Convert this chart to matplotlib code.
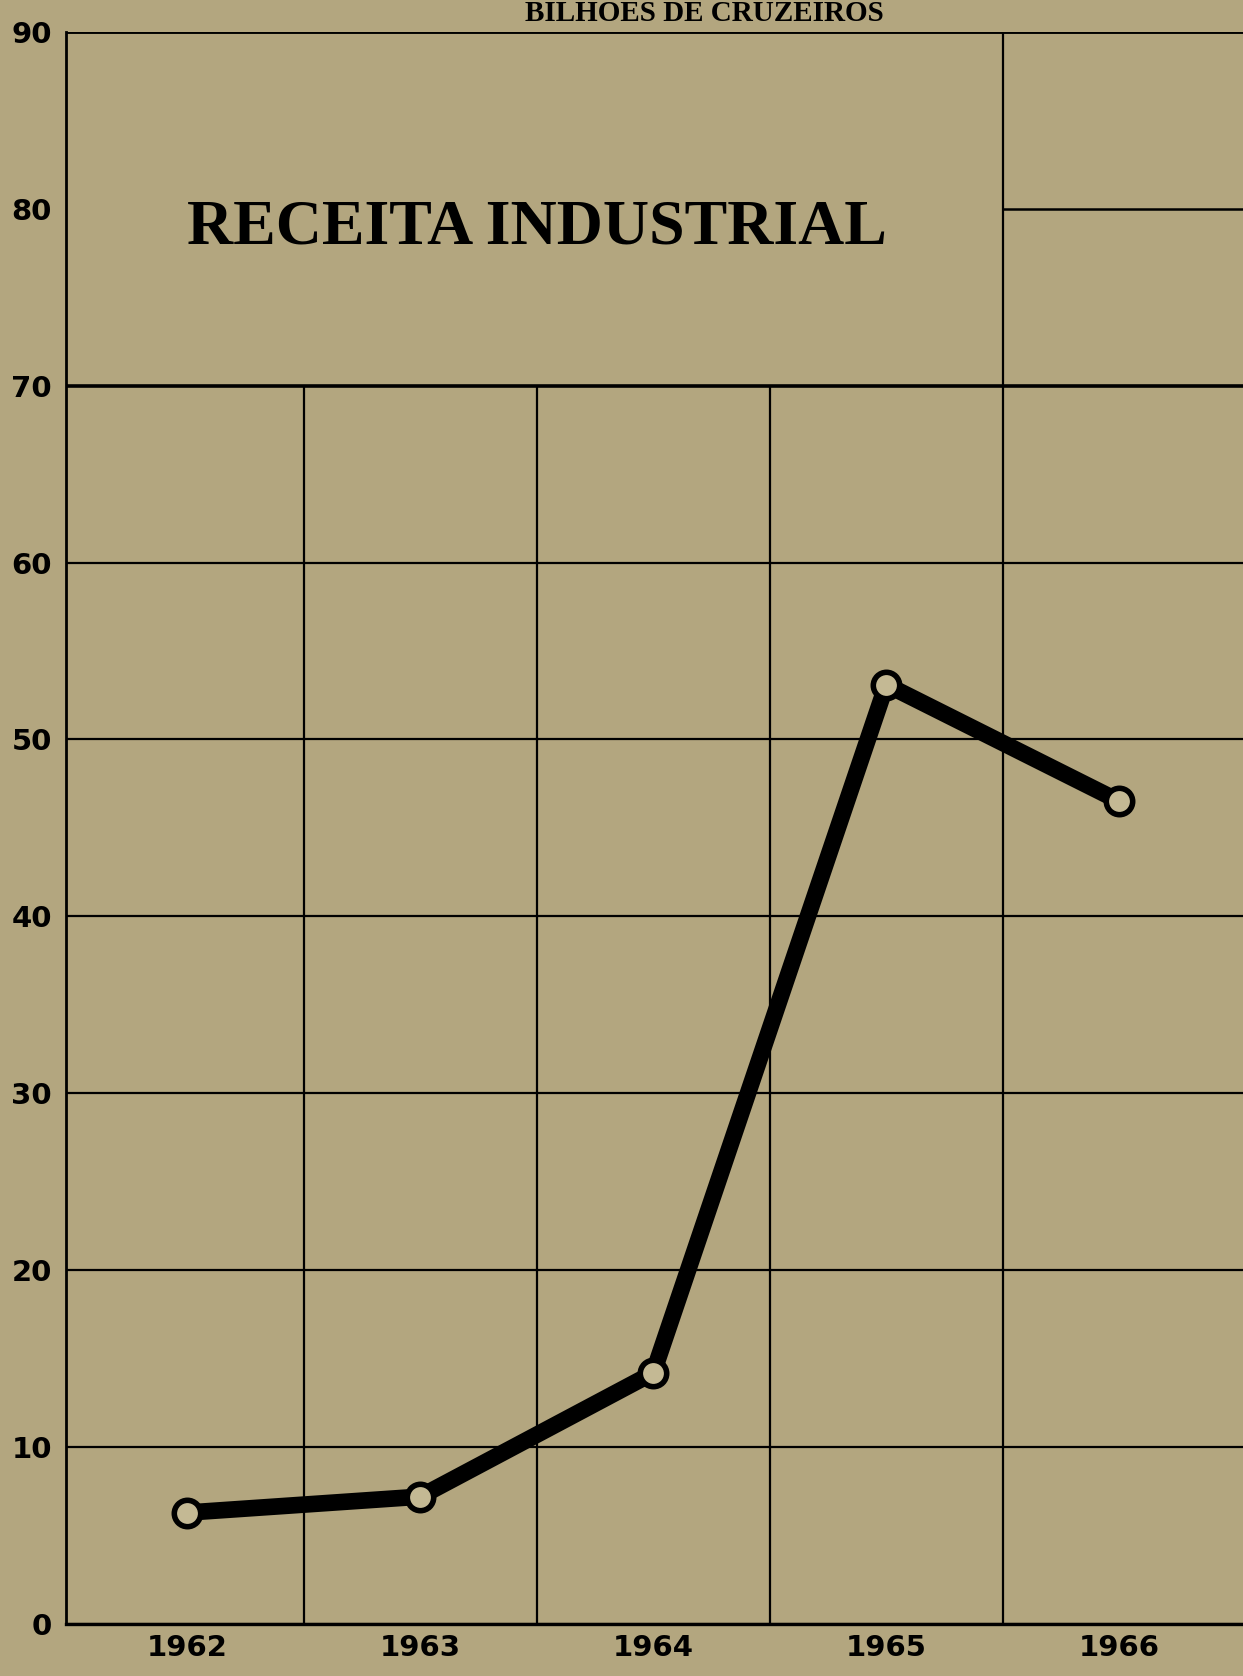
import matplotlib.pyplot as plt

# dados do gráfico (bilhões de cruzeiros)
anos = ['1962', '1963', '1964', '1965', '1966']
receita = [6.3, 7.2, 14.2, 53.1, 46.5]

y_ticks = [0, 10, 20, 30, 40, 50, 60, 70, 80, 90]

fundo = '#b3a67f'
fig = plt.figure(figsize=(12.43, 16.76), dpi=100, facecolor=fundo)
ax = fig.add_axes([0.053, 0.031, 0.947, 0.95])
ax.set_facecolor(fundo)

x = list(range(len(anos)))
ax.set_xlim(-0.52, len(anos) - 0.47)
ax.set_ylim(0, 90)

# grade: linhas horizontais até 70 em toda a largura, 80 e 90 só na última coluna
for v in y_ticks:
    if v <= 70:
        lw = 2.6 if v == 70 else 1.6
        ax.hlines(v, -0.52, len(anos) - 0.47, color='black', lw=lw, zorder=1)
    elif v == 80:
        ax.hlines(v, len(anos) - 1.5, len(anos) - 0.47, color='black', lw=1.8, zorder=1)
    else:
        ax.hlines(v, -0.52, len(anos) - 0.47, color='black', lw=2.8, zorder=1)

for i in range(len(anos) - 1):
    topo = 90 if i == len(anos) - 2 else 70
    ax.vlines(i + 0.5, 0, topo, color='black', lw=1.6, zorder=1)

for s in ['top', 'right']:
    ax.spines[s].set_visible(False)
ax.spines['left'].set_linewidth(2)
ax.spines['bottom'].set_linewidth(2.4)

ax.plot(x, receita, color='black', lw=12, solid_capstyle='round',
        solid_joinstyle='round', zorder=3)
ax.plot(x, receita, 'o', ms=19, mfc='#c4b994', mec='black', mew=4, zorder=4)

ax.set_xticks(x)
ax.set_xticklabels(anos)
ax.set_yticks(y_ticks)
ax.tick_params(axis='x', length=0, pad=7)
ax.tick_params(axis='y', length=0, pad=10)
for lbl in ax.get_xticklabels() + ax.get_yticklabels():
    lbl.set_family(['Liberation Sans Narrow', 'DejaVu Sans'])
    lbl.set_fontweight('bold')
    lbl.set_fontsize(21)

ax.text(1.5, 78.9, 'RECEITA INDUSTRIAL', ha='center', va='center',
        family='Liberation Serif', fontweight='bold', fontsize=46)
fig.text(0.567, 0.992, 'BILHOES DE CRUZEIROS', ha='center', va='center',
         family='Liberation Serif', fontweight='bold', fontsize=21)

fig.savefig('out.png', dpi=100, facecolor=fundo)
